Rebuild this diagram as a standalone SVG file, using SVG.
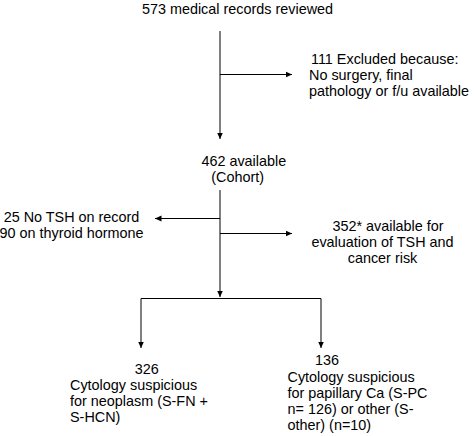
<svg xmlns="http://www.w3.org/2000/svg" width="474" height="436" viewBox="0 0 474 436">
<style>
text{font-family:"Liberation Sans",Arial,Helvetica,sans-serif;font-size:14.4px;fill:#000}
.c{text-anchor:middle}
.e{stroke:#000;stroke-width:1;fill:none}
</style>
<defs>
<marker id="ah" markerUnits="userSpaceOnUse" markerWidth="7" markerHeight="7" refX="6.5" refY="3" orient="auto" viewBox="0 0 7 6">
<path d="M0,0 L6.5,3 L0,6 z" fill="#000"/>
</marker>
</defs>
<rect width="474" height="436" fill="#fff"/>
<g id="connectors">
<path class="e" d="M220,31 V139" marker-end="url(#ah)"/>
<path class="e" d="M220,74.5 H292" marker-end="url(#ah)"/>
<path class="e" d="M220,190 V297" marker-end="url(#ah)"/>
<path class="e" d="M220,218.5 H155" marker-end="url(#ah)"/>
<path class="e" d="M220,233.5 H292" marker-end="url(#ah)"/>
<path class="e" d="M141,298.5 H321"/>
<path class="e" d="M141,298.5 V348" marker-end="url(#ah)"/>
<path class="e" d="M321,298.5 V348" marker-end="url(#ah)"/>
</g>
<g id="n573">
<text class="c" x="237.5" y="14">573 medical records reviewed</text>
</g>
<g id="nExcluded">
<text x="311" y="64">111 Excluded because:</text>
<text x="309" y="80">No surgery, final</text>
<text x="309" y="96">pathology or f/u available</text>
</g>
<g id="n462">
<text class="c" x="243.8" y="166">462 available</text>
<text class="c" x="237.7" y="181.5">(Cohort)</text>
</g>
<g id="nNoTSH">
<text class="c" x="71.5" y="222">25 No TSH on record</text>
<text class="c" x="71.5" y="238">90 on thyroid hormone</text>
</g>
<g id="n352">
<text class="c" x="388" y="230.5">352* available for</text>
<text class="c" x="382.5" y="246.5">evaluation of TSH and</text>
<text class="c" x="382.5" y="262.5">cancer risk</text>
</g>
<g id="n326">
<text class="c" x="146.7" y="373.5">326</text>
<text x="70" y="390">Cytology suspicious</text>
<text x="70" y="406">for neoplasm (S-FN +</text>
<text x="70" y="422">S-HCN)</text>
</g>
<g id="n136">
<text class="c" x="327" y="365">136</text>
<text x="287.5" y="381.5">Cytology suspicious</text>
<text x="287.5" y="397.5">for papillary Ca (S-PC</text>
<text x="287.5" y="413.5">n= 126) or other (S-</text>
<text x="287.5" y="429.5">other) (n=10)</text>
</g>
</svg>
